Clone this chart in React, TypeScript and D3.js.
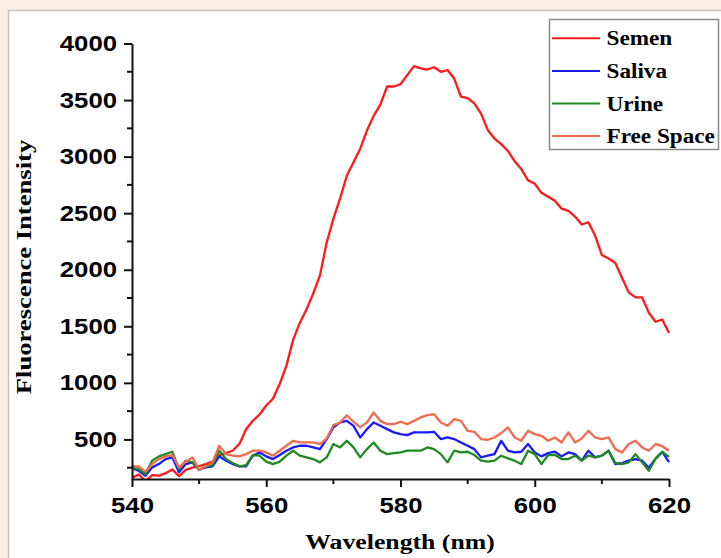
import * as d3 from "d3";
import React, { useRef, useEffect } from "react";

const W = 721,
  H = 558;

// wavelength grid, 1 nm steps
const wavelengths = d3.range(540, 621);

// values
const semen = [
  160, 190, 130, 185, 180, 200, 235, 175, 230, 250,
  265, 282, 305, 360, 380, 400, 460, 590, 665, 720,
  800, 860, 990, 1150, 1380, 1530, 1650, 1790, 1950, 2240,
  2450, 2630, 2830, 2950, 3070, 3230, 3360, 3460, 3620, 3620,
  3640, 3720, 3800, 3780, 3770, 3790, 3750, 3765, 3690, 3530,
  3518, 3470, 3380, 3236, 3160, 3110, 3050, 2960, 2890, 2790,
  2760, 2680, 2646, 2610, 2540, 2520, 2470, 2400, 2420, 2300,
  2130, 2100, 2060, 1930, 1800, 1755, 1755, 1620, 1540, 1560,
  1440,
];
const saliva = [
  244, 223, 179, 253, 282, 326, 341, 209, 282, 297,
  232, 253, 262, 350, 312, 282, 262, 262, 356, 385,
  350, 326, 362, 400, 429, 444, 444, 429, 414, 503,
  606, 650, 664, 620, 517, 591, 650, 620, 591, 562,
  547, 538, 562, 562, 562, 567, 503, 517, 503, 473,
  444, 414, 341, 356, 370, 488, 400, 385, 391, 459,
  385, 350, 379, 391, 350, 385, 370, 312, 400, 341,
  356, 400, 282, 291, 312, 326, 312, 250, 330, 390,
  300,
];
const urine = [
  253, 238, 194, 312, 350, 370, 391, 238, 312, 297,
  232, 262, 273, 400, 326, 291, 262, 273, 362, 356,
  303, 282, 303, 356, 400, 356, 341, 326, 297, 341,
  459, 429, 488, 429, 341, 414, 473, 400, 370, 379,
  385, 400, 400, 400, 429, 414, 370, 297, 400, 385,
  391, 362, 312, 303, 312, 356, 332, 312, 282, 400,
  370, 282, 362, 362, 326, 326, 356, 312, 356, 341,
  356, 400, 291, 282, 297, 370, 297, 223, 330, 390,
  345,
];
const freeSpace = [
  262, 262, 215, 282, 326, 350, 362, 253, 303, 341,
  232, 262, 297, 444, 370, 356, 350, 370, 400, 400,
  385, 356, 400, 444, 488, 473, 473, 473, 459, 508,
  626, 650, 714, 656, 606, 650, 738, 664, 635, 635,
  656, 635, 664, 694, 714, 723, 650, 620, 679, 664,
  576, 567, 503, 497, 517, 556, 606, 517, 488, 576,
  547, 532, 488, 517, 473, 562, 473, 508, 576, 517,
  503, 517, 414, 385, 459, 488, 429, 400, 460, 440,
  400,
];

const seriesNames = ["Semen", "Saliva", "Urine", "Free Space"];
const seriesColors = ["#ff1a1a", "#1a1aff", "#1f8a1f", "#f26b50"];
const seriesValues = [semen, saliva, urine, freeSpace];

const xMajor = [540, 560, 580, 600, 620];
const xMinor = [550, 570, 590, 610];
const yMajor = [500, 1000, 1500, 2000, 2500, 3000, 3500, 4000];
const yMinor = [250, 750, 1250, 1750, 2250, 2750, 3250, 3750];

const sans = "'Liberation Sans', Arial, sans-serif";
const serif = "'Liberation Serif', 'Times New Roman', serif";

function App() {
  const ref = useRef<SVGSVGElement>(null);

  useEffect(() => {
    d3.select(ref.current).selectAll("*").remove();
    draw();
  }, []);

  const draw = () => {
    const svg = d3.select(ref.current);

    // page + panel
    svg.append("rect").attr("width", W).attr("height", H).attr("fill", "#fbeee4");
    svg
      .append("rect")
      .attr("x", 8.5)
      .attr("y", 10.5)
      .attr("width", 740)
      .attr("height", 560)
      .attr("fill", "#fff")
      .attr("stroke", "#c9bfb8")
      .attr("stroke-width", 1.5);

    const x = d3.scaleLinear().domain([540, 620]).range([132, 669]);
    const y = d3.scaleLinear().domain([150, 4000]).range([479, 43.5]);

    svg
      .append("clipPath")
      .attr("id", "plotclip")
      .append("rect")
      .attr("x", 132)
      .attr("y", 30)
      .attr("width", 540)
      .attr("height", 449);

    const line = d3
      .line<number>()
      .x((d, i) => x(wavelengths[i]))
      .y((d) => y(d));

    const lines = svg.append("g").attr("clip-path", "url(#plotclip)");
    seriesValues.forEach((vals, i) => {
      lines
        .append("path")
        .attr("d", line(vals))
        .attr("fill", "none")
        .attr("stroke", seriesColors[i])
        .attr("stroke-width", 2.3)
        .attr("stroke-linejoin", "round");
    });

    // Y axis
    const gy = svg
      .append("g")
      .attr("transform", "translate(132,0)")
      .call(
        d3
          .axisLeft(y)
          .tickValues(yMajor)
          .tickFormat(d3.format("d"))
          .tickSize(8)
          .tickSizeOuter(0)
          .tickPadding(4.8)
      );
    gy.selectAll("line.minor")
      .data(yMinor)
      .enter()
      .append("line")
      .attr("class", "minor")
      .attr("x1", -5)
      .attr("x2", 0)
      .attr("y1", (d) => y(d))
      .attr("y2", (d) => y(d));

    // X axis
    const gx = svg
      .append("g")
      .attr("transform", "translate(0,479)")
      .call(
        d3
          .axisBottom(x)
          .tickValues(xMajor)
          .tickFormat(d3.format("d"))
          .tickSize(8)
          .tickSizeOuter(0)
          .tickPadding(10.4)
      );
    gx.selectAll("line.minor")
      .data(xMinor)
      .enter()
      .append("line")
      .attr("class", "minor")
      .attr("y1", 0)
      .attr("y2", 5)
      .attr("x1", (d) => x(d))
      .attr("x2", (d) => x(d));

    [gx, gy].forEach((g) => {
      g.select(".domain").attr("stroke", "#111").attr("stroke-width", 2);
      g.selectAll("line").attr("stroke", "#111").attr("stroke-width", 2);
      g.selectAll("text")
        .attr("fill", "#000")
        .style("font-family", sans)
        .style("font-weight", "bold")
        .style("font-size", "22px")
        .attr("transform", "scale(1.17,1)");
    });

    // axis titles
    svg
      .append("text")
      .attr("transform", "translate(400,549) scale(1.17,1)")
      .attr("text-anchor", "middle")
      .style("font-family", serif)
      .style("font-weight", "bold")
      .style("font-size", "22px")
      .text("Wavelength (nm)");
    svg
      .append("text")
      .attr("transform", "translate(31,267) rotate(-90) scale(1.21,1)")
      .attr("text-anchor", "middle")
      .style("font-family", serif)
      .style("font-weight", "bold")
      .style("font-size", "22px")
      .text("Fluorescence Intensity");

    // legend
    const lg = svg.append("g");
    lg.append("rect")
      .attr("x", 549.5)
      .attr("y", 19.5)
      .attr("width", 169)
      .attr("height", 130)
      .attr("fill", "#fff")
      .attr("stroke", "#8a8a8a")
      .attr("stroke-width", 1.5);
    seriesNames.forEach((name, i) => {
      const ly = 38.3 + i * 32.6;
      lg.append("line")
        .attr("x1", 552)
        .attr("x2", 600)
        .attr("y1", ly)
        .attr("y2", ly)
        .attr("stroke", seriesColors[i])
        .attr("stroke-width", 2);
      lg.append("text")
        .attr("transform", `translate(606.5,${ly + 7}) scale(1.16,1)`)
        .style("font-family", serif)
        .style("font-weight", "bold")
        .style("font-size", "20px")
        .text(name);
    });
  };

  return (
    <svg
      ref={ref}
      width={W}
      height={H}
      style={{ position: "absolute", left: 0, top: 0, display: "block" }}
    ></svg>
  );
}

export default App;
